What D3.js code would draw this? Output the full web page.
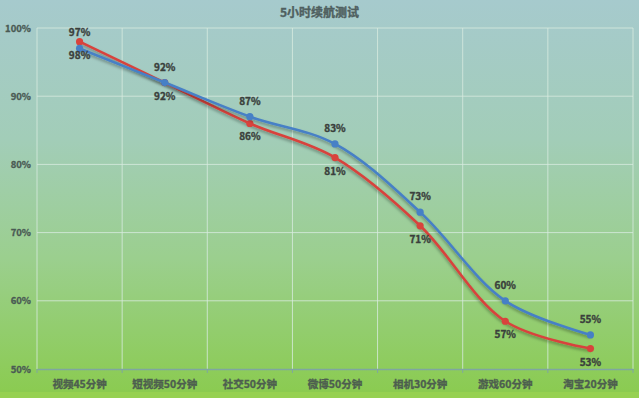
<!DOCTYPE html>
<html><head><meta charset="utf-8">
<script src="https://cdn.jsdelivr.net/npm/d3@7"></script>
<style>html,body{margin:0;padding:0;overflow:hidden;}svg{display:block;}</style>
</head><body>
<svg id="chart" width="639" height="398"></svg>
<script>
const categories = ["视频45分钟","短视频50分钟","社交50分钟","微博50分钟","相机30分钟","游戏60分钟","淘宝20分钟"];
const blueValues = [97, 92, 87, 83, 73, 60, 55];
const redValues  = [98, 92, 86, 81, 71, 57, 53];
const yTicks = [50, 60, 70, 80, 90, 100];
const title = "5小时续航测试";

const W = 639, H = 398;
const m = {left: 37, right: 6, top: 28, bottom: 29};
const svg = d3.select("#chart");
const font = "'Noto Sans CJK SC','Noto Sans',sans-serif";

const defs = svg.append("defs");
const grad = defs.append("linearGradient").attr("id","bg").attr("x1",0).attr("y1",0).attr("x2",0).attr("y2",1);
grad.append("stop").attr("offset","0%").attr("stop-color","#a6cacd");
grad.append("stop").attr("offset","35%").attr("stop-color","#a2cdb8");
grad.append("stop").attr("offset","65%").attr("stop-color","#9bcf8e");
grad.append("stop").attr("offset","100%").attr("stop-color","#8acb4e");
const f = defs.append("filter").attr("id","shadow").attr("x","-10%").attr("y","-10%").attr("width","120%").attr("height","130%");
f.append("feDropShadow").attr("dx",0).attr("dy",2).attr("stdDeviation",1.6).attr("flood-color","#000").attr("flood-opacity",0.35);

svg.append("rect").attr("width",W).attr("height",H).attr("fill","url(#bg)");
svg.append("rect").attr("y",392).attr("width",W).attr("height",6).attr("fill","#96d152");

const x = d3.scaleBand().domain(categories).range([m.left, W - m.right]).paddingInner(0).paddingOuter(0);
const y = d3.scaleLinear().domain([50,100]).range([H - m.bottom, m.top]);

// grid
const g = svg.append("g");
g.selectAll(".hg").data(yTicks.filter(d=>d>50)).join("line")
  .attr("x1", m.left).attr("x2", W - m.right)
  .attr("y1", d=>y(d)).attr("y2", d=>y(d))
  .attr("stroke","#d8ebe0").attr("stroke-opacity",0.8).attr("stroke-width",1);
const vx = categories.map(c=>x(c)).concat([x(categories[categories.length-1]) + x.bandwidth()]);
g.selectAll(".vg").data(vx).join("line")
  .attr("x1", d=>d).attr("x2", d=>d)
  .attr("y1", m.top).attr("y2", H - m.bottom)
  .attr("stroke","#d8ebe0").attr("stroke-opacity",0.8).attr("stroke-width",1);

// x axis
const xAxis = svg.append("g").attr("transform",`translate(0,${H - m.bottom})`)
  .call(d3.axisBottom(x).tickSize(0).tickPadding(12));
xAxis.select(".domain").attr("stroke","#7fa6a0").attr("stroke-width",1.5);
xAxis.selectAll("text").attr("font-family",font).attr("font-size",10.5).attr("font-weight","bold")
  .attr("fill","#4d5e4f").attr("stroke","#4d5e4f").attr("stroke-width",0.35);
svg.append("g").selectAll("line").data(vx).join("line")
  .attr("x1",d=>d).attr("x2",d=>d).attr("y1",H-m.bottom).attr("y2",H-m.bottom+4)
  .attr("stroke","#7fa6a0").attr("stroke-width",1);

// y axis labels
const yAxis = svg.append("g").attr("transform",`translate(${m.left},0)`)
  .call(d3.axisLeft(y).tickValues(yTicks).tickSize(0).tickPadding(6).tickFormat(d=>d+"%"));
yAxis.select(".domain").remove();
yAxis.selectAll("text").attr("font-family",font).attr("font-size",9.5).attr("font-weight","bold")
  .attr("fill","#4a5a54").attr("stroke","#4a5a54").attr("stroke-width",0.3);

// title
svg.append("text").attr("x", W/2).attr("y", 17).attr("text-anchor","middle")
  .attr("font-family",font).attr("font-size",12).attr("font-weight","bold").attr("fill","#4f5f5f")
  .attr("stroke","#4f5f5f").attr("stroke-width",0.35).text(title);

const cx = c => x(c) + x.bandwidth()/2;
const line = d3.line().x((d,i)=>cx(categories[i])).y(d=>y(d)).curve(d3.curveCatmullRom.alpha(0.5));

const series = [
  {vals: redValues, color: "#d8433c", dy: 17},
  {vals: blueValues, color: "#4680c6", dy: -12}
];
series.forEach(s => {
  const sg = svg.append("g");
  sg.append("path").attr("d", line(s.vals)).attr("fill","none").attr("stroke",s.color)
    .attr("stroke-width",2.6).attr("filter","url(#shadow)");
  sg.selectAll("circle").data(s.vals).join("circle")
    .attr("cx",(d,i)=>cx(categories[i])).attr("cy",d=>y(d)).attr("r",3.6).attr("fill",s.color);
});
series.forEach(s => {
  svg.append("g").selectAll("text").data(s.vals).join("text")
    .attr("x",(d,i)=>cx(categories[i])).attr("y",d=>y(d)+s.dy)
    .attr("text-anchor","middle").attr("font-family",font).attr("font-size",10)
    .attr("font-weight","bold").attr("fill","#3a3f3c").attr("stroke","#3a3f3c").attr("stroke-width",0.35)
    .text(d=>d+"%");
});
</script>
</body></html>
